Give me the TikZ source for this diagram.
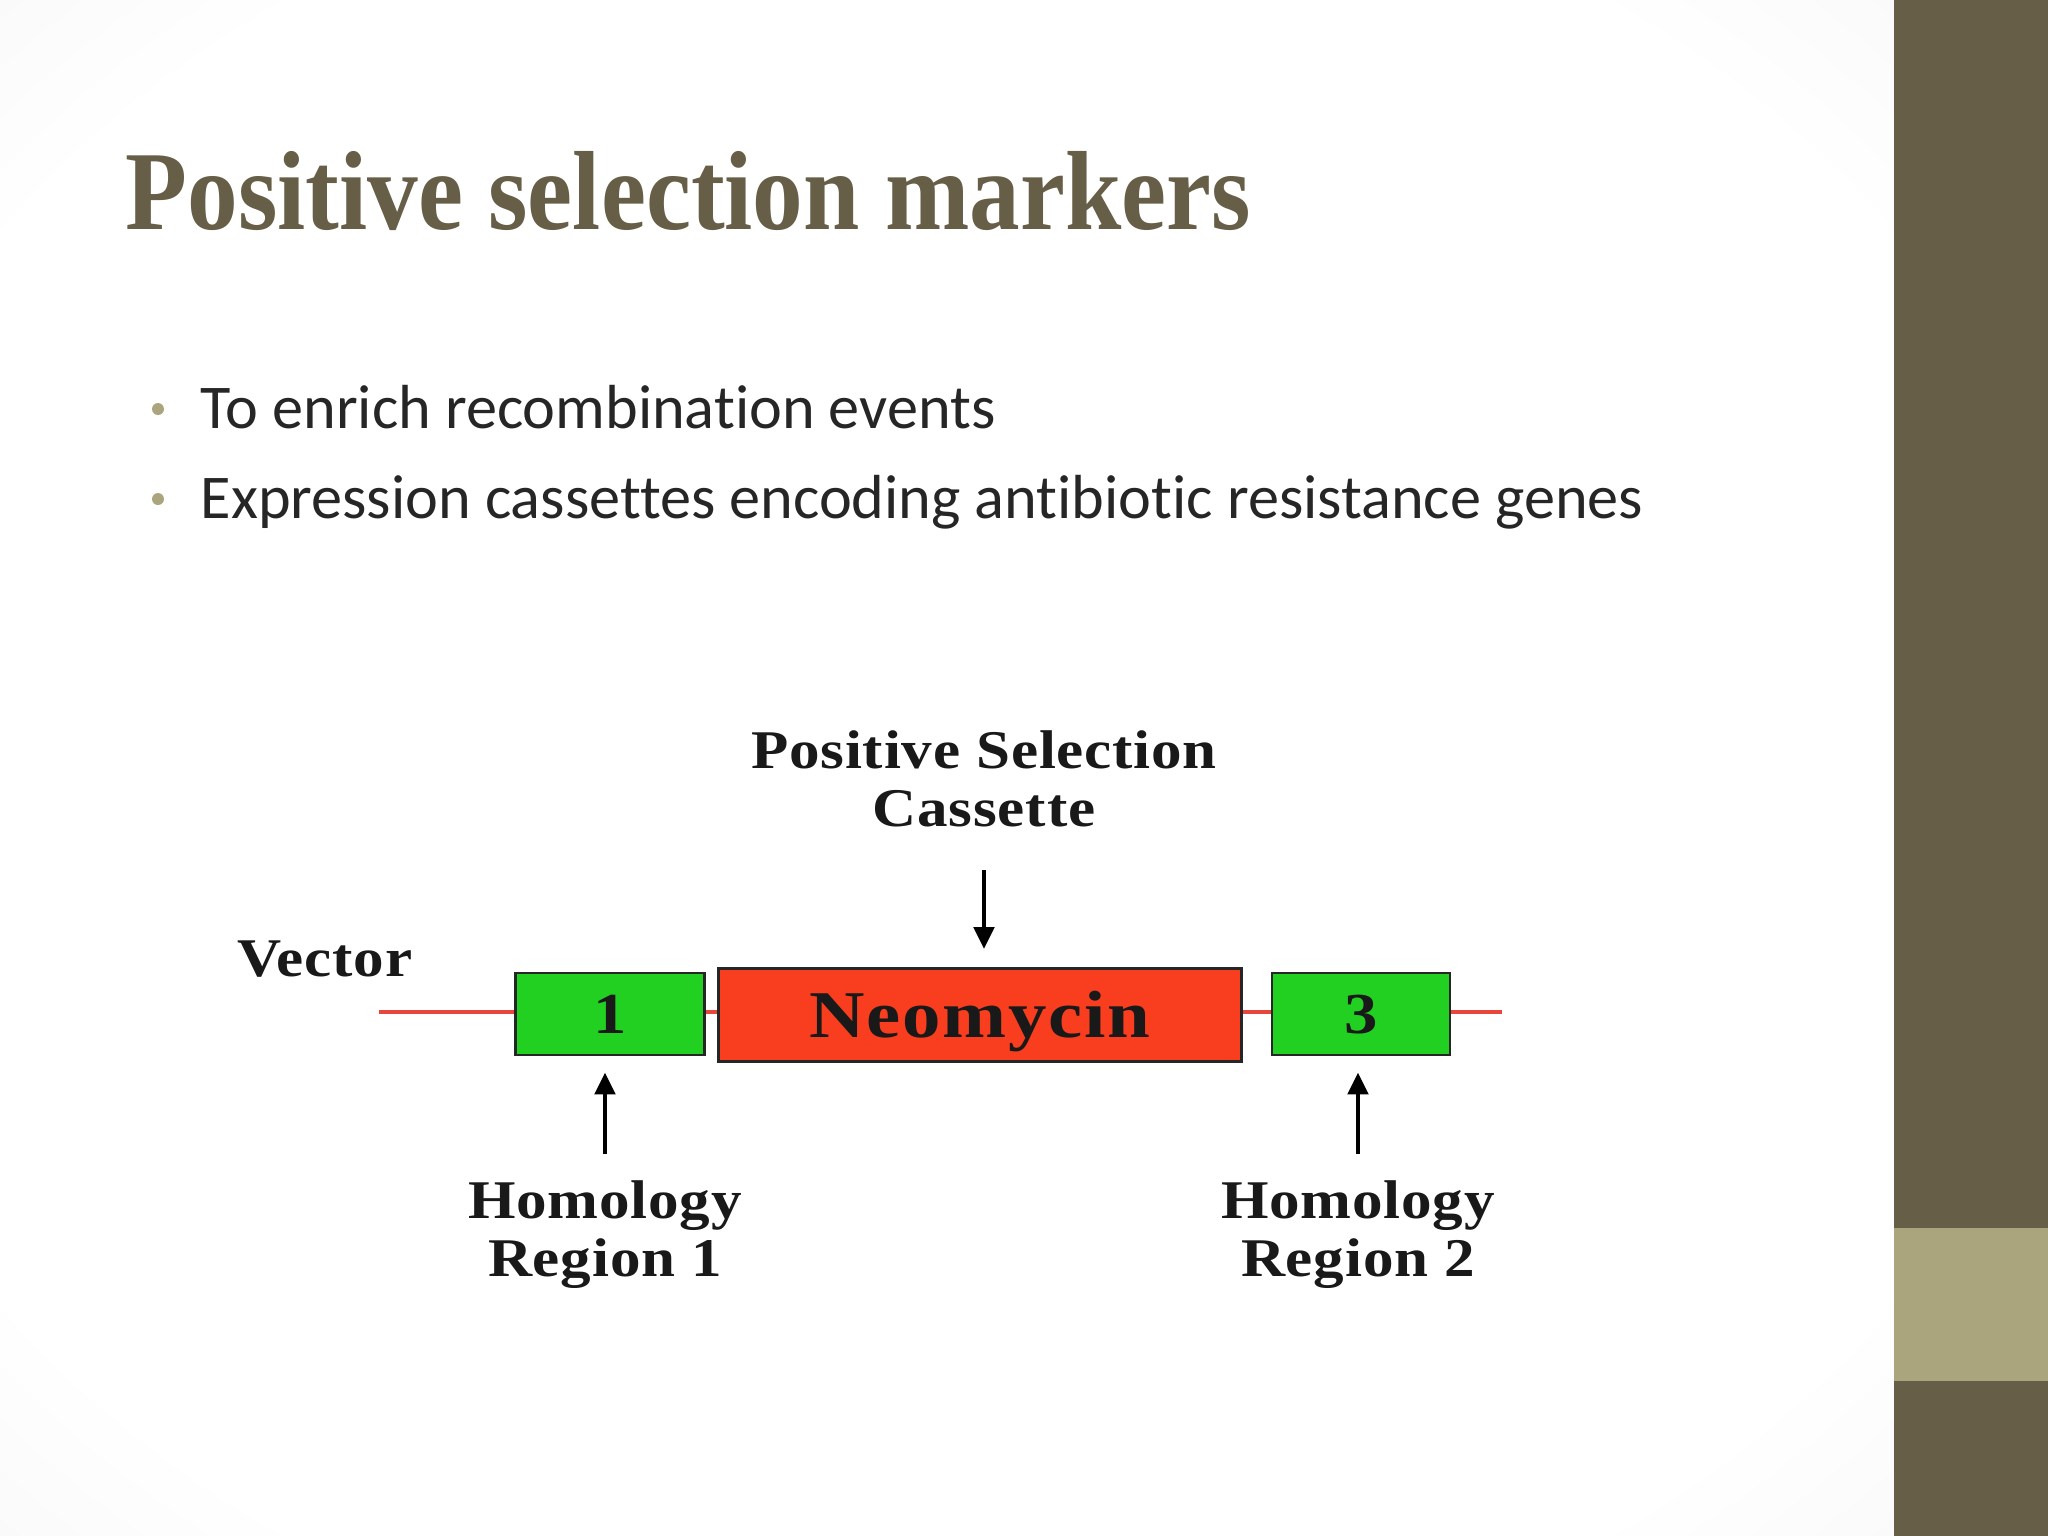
\documentclass[tikz,border=0pt]{standalone}
\usepackage{fontspec}
\usetikzlibrary{arrows.meta}
\setmainfont{Liberation Serif}
\newfontfamily\bodyfont[Ligatures=NoCommon]{Carlito}
\newfontfamily\titlefont[FakeStretch=0.9]{Liberation Serif}
\newfontfamily\figfont[FakeStretch=1.12,LetterSpace=1.5]{Liberation Serif}
\newfontfamily\genefont[FakeStretch=1.15,LetterSpace=2.5]{Liberation Serif}
\definecolor{slidebrown}{HTML}{675E48}
\definecolor{slidesand}{HTML}{ABA57D}
\definecolor{genegreen}{HTML}{22D022}
\definecolor{neored}{HTML}{F83E1E}
\definecolor{vecred}{HTML}{E8463A}
\pgfdeclareradialshading{slideglow}{\pgfpoint{0bp}{0bp}}{color(0bp)=(white); color(30bp)=(white); color(72bp)=(black!15)}

\begin{document}
\begin{tikzpicture}[x=0.01cm,y=-0.01cm]
\tikzstyle{gene}=[rectangle, draw=black!85, line width=0.8pt, inner sep=0pt, text height=12.6pt, text depth=0pt, font=\genefont\fontsize{19}{19}\selectfont\bfseries, text=black!90]
\tikzstyle{region}=[gene, fill=genegreen, minimum height=0.82cm, text height=10.9pt, font=\genefont\fontsize{16.5}{16.5}\selectfont\bfseries]
\tikzstyle{tag}=[align=center, inner sep=0pt, font=\figfont\fontsize{15.5}{16.5}\selectfont\bfseries, text=black!90]
\tikzstyle{connect}=[-{Triangle[length=2.2mm,width=2mm]}, line width=1.4pt]
\tikzstyle{vector}=[vecred, line width=1.2pt]
\tikzstyle{point}=[font=\bodyfont\fontsize{17.7}{20}\selectfont, text=black!85, anchor=base west, inner sep=0pt]
\useasboundingbox (0,0) rectangle (2048,1536);
  % slide
  \shade[shading=slideglow] (0,0) rectangle (1894,1536);
  \fill[white] (176,614) rectangle (1766,1378);
  \fill[slidebrown] (1894,0) rectangle (2048,1536);
  \fill[slidesand] (1894,1228) rectangle (2048,1381);
  \node[anchor=base west, inner sep=0pt, text=slidebrown, font=\titlefont\fontsize{32}{36}\selectfont\bfseries] (title) at (125,229) {Positive selection markers};
  \fill[slidesand] (158,409) circle (6);
  \node[point] (p1) at (200,428) {To enrich recombination events};
  \fill[slidesand] (158,499) circle (6);
  \node[point] (p2) at (200,518) {Expression cassettes encoding antibiotic resistance genes};
  % cassette
  \coordinate (vl) at (379,1012);
  \coordinate (vr) at (1502,1012);
  \draw[vector] (vl) -- (vr);
  \node[region, minimum width=1.89cm] (r1) at (610,1014) {1};
  \node[gene, fill=neored, minimum width=5.23cm, minimum height=0.93cm] (neo) at (980,1015) {Neomycin};
  \node[region, minimum width=1.78cm] (r3) at (1361,1014) {3};
  \node[tag] (vec) at (325,959) {Vector};
  \node[tag] (psc) at (984,779) {Positive Selection\\Cassette};
  \node[tag] (hom1) at (605,1235) {Homology\\Region 1};
  \node[tag] (hom2) at (1358,1235) {Homology\\Region 2};
  \path
        (psc.south) edge [connect, shorten <=4.2mm, shorten >=1.8mm] (psc.south |- neo.north)
        (hom1.north) edge [connect, shorten <=2.6mm, shorten >=1.6mm] (hom1.north |- r1.south)
        (hom2.north) edge [connect, shorten <=2.6mm, shorten >=1.6mm] (hom2.north |- r3.south);
\end{tikzpicture}
\end{document}
